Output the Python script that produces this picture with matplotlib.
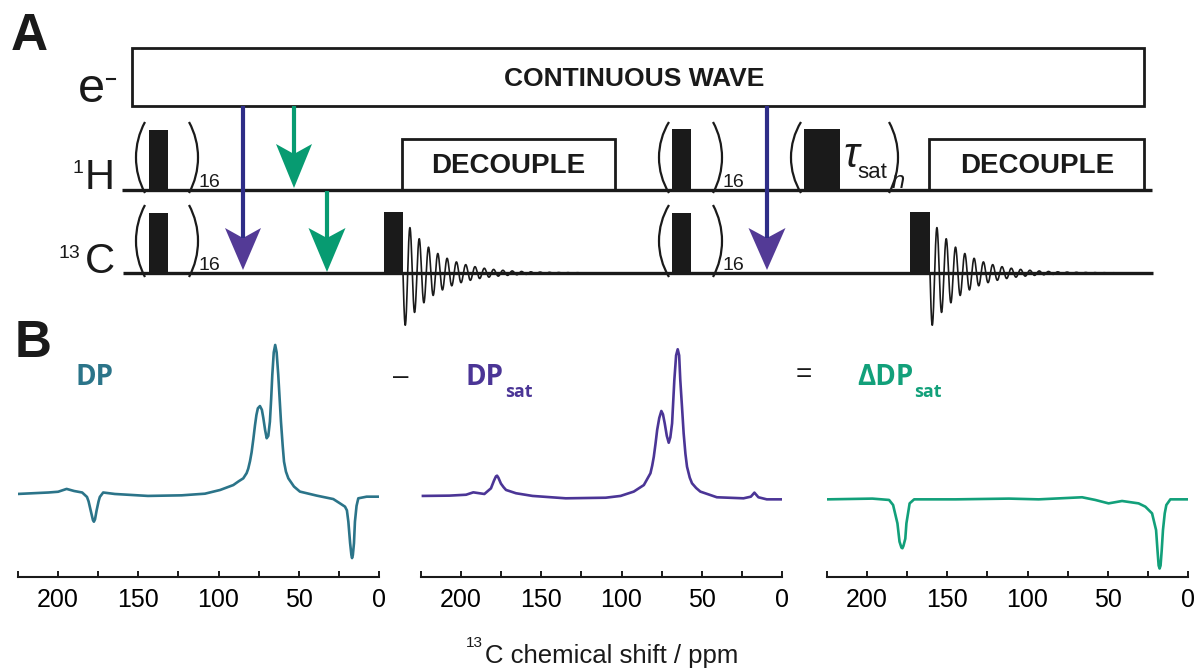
import numpy as np
import matplotlib
matplotlib.use('Agg')
import matplotlib.pyplot as plt
from matplotlib.patches import Rectangle, Arc, Polygon

plt.rcParams['font.family'] = 'Liberation Sans'

# ---- spectra (ppm, intensity, arbitrary units) ----
dp_ppm = [225.6, 206, 200, 194.7, 190, 185, 182, 181, 179.5, 178.3, 177.7, 177.0, 176,
          174.8, 174, 171.9, 164.6, 144, 123, 108.5, 99, 90.8, 87.5, 84.6, 82.5, 81.5,
          80.4, 79.4, 78.3, 77.3, 76.4, 75.5, 74.2, 73.0, 72.1, 71.0, 70.0, 69.0, 68.0,
          67.2, 66.5, 65.6, 64.7, 63.8, 62.8, 61.1, 60.0, 59.2, 58.0, 56.5, 53.0, 49.3,
          38.8, 28.5, 24.3, 21.2, 20.0, 19.1, 18.0, 17.2, 16.8, 16.3, 15.6, 15.0, 14.0,
          12.9, 7.7, 0]
dp_int = [0.0, 0.01, 0.015, 0.034, 0.02, 0.01, -0.02, -0.05, -0.12, -0.175, -0.186, -0.17,
          -0.11, -0.05, -0.02, 0.01, 0.0, -0.013, -0.009, 0.002, 0.027, 0.06, 0.085, 0.105,
          0.14, 0.17, 0.22, 0.28, 0.37, 0.46, 0.53, 0.575, 0.59, 0.565, 0.51, 0.43, 0.374,
          0.39, 0.485, 0.64, 0.80, 0.95, 1.0, 0.95, 0.80, 0.485, 0.32, 0.217, 0.15, 0.105,
          0.05, 0.016, -0.011, -0.034, -0.063, -0.085, -0.11, -0.186, -0.33, -0.41, -0.43,
          -0.41, -0.33, -0.186, -0.08, -0.029, -0.018, -0.018]

sat_ppm = [223.8, 207.3, 196.9, 192.4, 185.5, 181.4, 179.5, 178.3, 177.6, 176.8, 175.2,
           173.5, 172.0, 165.8, 155.5, 134.8, 109.9, 100.6, 92.4, 86.1, 82.0, 80.9, 79.9,
           78.8, 77.8, 76.5, 75.2, 74.2, 73.1, 71.8, 70.6, 69.6, 68.5, 67.8, 67.1, 66.0,
           65.0, 64.1, 63.4, 62.3, 61.3, 60.2, 59.2, 57.5, 56.1, 53.5, 50.9, 40.6, 24.0,
           19.4, 17.2, 14.7, 9.5, 0.2]
sat_int = [-0.013, -0.011, -0.005, 0.011, 0.0, 0.038, 0.09, 0.118, 0.123, 0.11, 0.07,
           0.045, 0.027, 0.005, -0.013, -0.029, -0.025, -0.013, 0.016, 0.06, 0.139, 0.19,
           0.25, 0.34, 0.43, 0.51, 0.557, 0.535, 0.474, 0.39, 0.344, 0.38, 0.474, 0.62,
           0.765, 0.93, 0.971, 0.93, 0.765, 0.58, 0.407, 0.27, 0.183, 0.11, 0.072, 0.04,
           0.016, -0.022, -0.029, -0.018, 0.009, -0.022, -0.036, -0.036]

diff_ppm = [224.7, 196.7, 186.3, 183.8, 181.1, 179.8, 178.6, 178.0, 177.4, 176.2, 175.5,
            173.5, 170.7, 144.8, 111.5, 93.1, 66.0, 57.8, 49.5, 41.1, 30.8, 26.6, 22.4,
            19.9, 19.0, 18.3, 17.7, 17.1, 16.4, 15.6, 14.5, 13.5, 11.0, 0.6]
diff_int = [-0.036, -0.031, -0.04, -0.074, -0.197, -0.32, -0.36, -0.364, -0.35, -0.30,
            -0.197, -0.063, -0.036, -0.036, -0.031, -0.036, -0.022, -0.04, -0.063, -0.047,
            -0.063, -0.085, -0.13, -0.242, -0.38, -0.48, -0.50, -0.48, -0.38, -0.242, -0.13,
            -0.074, -0.036, -0.036]

major_ticks = [0, 50, 100, 150, 200]
minor_ticks = [25, 75, 125, 175, 225]

c_dp = '#2b7489'
c_sat = '#4b3596'
c_diff = '#12a07a'
c_navy = '#2e2d87'
c_green = '#079b71'

# ---- pulse sequence layout (pixel units of the figure) ----
h_line, c_line = 190, 273
pulses = [(148.5, 130, 167.6, h_line), (148.5, 213, 167.6, c_line),
          (672, 129, 691, h_line), (672, 213, 691, c_line),
          (803.6, 129, 840, h_line),
          (384, 212, 403, c_line), (910, 212, 930, c_line)]
parens = [(136, 145, 122, 193), (198, 189, 122, 193), (136, 145, 205, 277), (198, 189, 205, 277),
          (659, 669, 122, 193), (722, 713, 122, 193), (659, 669, 205, 277), (722, 713, 205, 277),
          (791, 801, 122, 193), (898, 889, 122, 193)]
arrows = [(243, 106, 228, 238, 270, 36, c_navy, '#533a96'),
          (294, 106, 144, 154, 188, 36, c_green, c_green),
          (327, 191, 228, 238, 272, 37, c_green, c_green),
          (767, 106, 228, 238, 270, 37, c_navy, '#533a96')]


def paren(ax, x_out, x_in, y0, y1):
    h = (y1 - y0) / 2
    s = abs(x_in - x_out)
    r = (h * h + s * s) / (2 * s)
    half = np.degrees(np.arcsin(h / r))
    if x_out < x_in:
        ax.add_patch(Arc((x_out + r, (y0 + y1) / 2), 2 * r, 2 * r,
                         theta1=180 - half, theta2=180 + half, lw=1.6, color='#1a1a1a'))
    else:
        ax.add_patch(Arc((x_out - r, (y0 + y1) / 2), 2 * r, 2 * r,
                         theta1=-half, theta2=half, lw=1.6, color='#1a1a1a'))


def fid(ax, x0, length, y0, amp=56, period=9.3, decay=33):
    t = np.linspace(0, length, 1500)
    ax.plot(x0 + t, y0 + amp * np.exp(-t / decay) * np.sin(2 * np.pi * t / period),
            color='#1a1a1a', lw=1.2)


fig = plt.figure(figsize=(11.97, 6.68), dpi=100)
W, H = 1197, 668
ax0 = fig.add_axes([0, 0, 1, 1])
ax0.set_xlim(0, W)
ax0.set_ylim(H, 0)
ax0.axis('off')

# channel lines
ax0.plot([122, 1152], [h_line, h_line], color='#1a1a1a', lw=2.4, solid_capstyle='butt')
ax0.plot([123, 1153], [c_line, c_line], color='#1a1a1a', lw=2.4, solid_capstyle='butt')

# boxes
ax0.add_patch(Rectangle((132, 48), 1012, 58, fc='white', ec='#1a1a1a', lw=2))
ax0.add_patch(Rectangle((402, 139), 213, h_line - 139, fc='white', ec='#1a1a1a', lw=2))
ax0.add_patch(Rectangle((929, 139), 215, h_line - 139, fc='white', ec='#1a1a1a', lw=2))
ax0.text(634, 79, 'CONTINUOUS WAVE', fontsize=19, fontweight='bold', ha='center', va='center',
         color='#1a1a1a')
ax0.text(508, 166, 'DECOUPLE', fontsize=20, fontweight='bold', ha='center', va='center',
         color='#1a1a1a')
ax0.text(1037, 166, 'DECOUPLE', fontsize=20, fontweight='bold', ha='center', va='center',
         color='#1a1a1a')

for x0, y0, x1, y1 in pulses:
    ax0.add_patch(Rectangle((x0, y0), x1 - x0, y1 - y0, fc='#1a1a1a', ec='none'))
for p in parens:
    paren(ax0, *p)
for x, yb in [(198, 187), (198, 270), (722, 187), (722, 270)]:
    ax0.text(x, yb, '16', fontsize=14, ha='left', va='baseline', color='#1a1a1a')

fid(ax0, 403, 175, c_line)
fid(ax0, 930, 190, c_line)

# tau_sat label
ax0.text(843, 167, 'τ', fontsize=30, fontstyle='italic', ha='left', va='baseline', color='#1a1a1a')
ax0.text(857, 178, 'sat', fontsize=16, ha='left', va='baseline', color='#1a1a1a')
ax0.text(892, 188, 'n', fontsize=17, fontstyle='italic', ha='left', va='baseline', color='#1a1a1a')

for x, y0, yh, yn, tip, w, cs, ch in arrows:
    ax0.plot([x, x], [y0, yn], color=cs, lw=3, solid_capstyle='butt')
    ax0.add_patch(Polygon([(x - w / 2, yh), (x, yn), (x + w / 2, yh), (x, tip)],
                          closed=True, fc=ch, ec='none'))

# channel names
ax0.text(11, 50, 'A', fontsize=37, fontweight='bold', ha='left', va='baseline', color='#1a1a1a')
ax0.text(78, 102, 'e', fontsize=35, ha='left', va='baseline', color='#1a1a1a')
ax0.plot([107, 115], [79, 79], color='#1a1a1a', lw=1.5)
ax0.text(72, 173, '1', fontsize=14, ha='left', va='baseline', color='#1a1a1a')
ax0.text(85, 189, 'H', fontsize=30, ha='left', va='baseline', color='#1a1a1a')
ax0.text(58, 258, '13', fontsize=14, ha='left', va='baseline', color='#1a1a1a')
ax0.text(85, 273, 'C', fontsize=30, ha='left', va='baseline', color='#1a1a1a')

# panel B labels
ax0.text(15, 357, 'B', fontsize=37, fontweight='bold', ha='left', va='baseline', color='#1a1a1a')
ob = dict(family='Open Sans', fontweight='bold', va='baseline', ha='left')
ax0.text(76, 385, 'DP', fontsize=20, color=c_dp, **ob)
ax0.text(466, 385, 'DP', fontsize=20, color=c_sat, **ob)
ax0.text(505, 397, 'sat', fontsize=13, color=c_sat, **ob)
ax0.text(857, 385, 'ΔDP', fontsize=20, color=c_diff, **ob)
ax0.text(914, 397, 'sat', fontsize=13, color=c_diff, **ob)
ax0.text(401, 377, '–', fontsize=20, ha='center', va='center', color='#1a1a1a')
ax0.text(804, 375, '=', fontsize=20, ha='center', va='center', color='#1a1a1a')

ax0.text(466, 647, '13', fontsize=11, ha='left', va='baseline', color='#1a1a1a')
ax0.text(485, 663, 'C chemical shift / ppm', fontsize=18.5, ha='left', va='baseline',
         color='#1a1a1a')

# spectra
y_lo, y_hi = -0.557, 1.05
bottom = (H - 577) / H
height = (577 - 337.5) / H
for left_px, xs, ys, col in [(18, dp_ppm, dp_int, c_dp),
                             (421, sat_ppm, sat_int, c_sat),
                             (827, diff_ppm, diff_int, c_diff)]:
    ax = fig.add_axes([left_px / W, bottom, 361 / W, height])
    ax.patch.set_alpha(0)
    ax.plot(xs, ys, color=col, lw=1.9, solid_joinstyle='round')
    ax.set_xlim(225, 0)
    ax.set_ylim(y_lo, y_hi)
    for s in ['top', 'right', 'left']:
        ax.spines[s].set_visible(False)
    ax.spines['bottom'].set_linewidth(1.5)
    ax.spines['bottom'].set_color('#1a1a1a')
    ax.set_yticks([])
    ax.set_xticks(major_ticks)
    ax.set_xticks(minor_ticks, minor=True)
    ax.tick_params(axis='x', which='both', direction='in', length=4, width=1.4,
                   color='#1a1a1a', labelsize=18, pad=8)

fig.savefig('out.png', dpi=100)
